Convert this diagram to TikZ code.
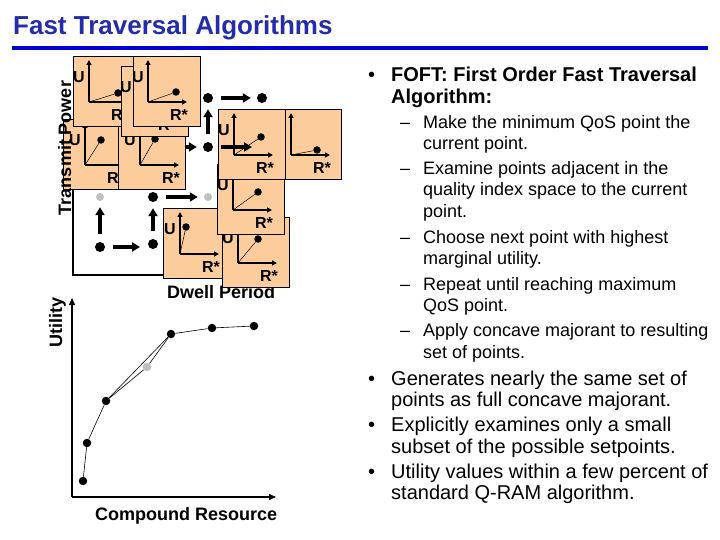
\documentclass[tikz,border=0pt]{standalone}
\usepackage{fontspec}
\setmainfont{Liberation Sans}
\usetikzlibrary{arrows.meta}

\definecolor{peach}{RGB}{252,204,156}
\definecolor{titleblue}{RGB}{36,44,168}
\definecolor{ruleblue}{RGB}{0,0,208}

\newcommand{\uplot}[6][16]{%
  \draw[plotbox] ({#3-#1},{#4-46}) rectangle ++(67,70);
  \coordinate (#2o) at (#3,#4);
  \draw[plotaxis] (#2o) -- ++(0,-42);
  \draw[plotaxis] (#2o) -- ++(39,0);
  \node[plotdot] (#2dot) at ({#3+#5},{#4+#6}) {};
  \draw[plotline] (#2o) -- (#2dot);
  \node[plotlbl] (#2u) at ({#3-10},{#4-25}) {U};
  \node[plotlbl] (#2r) at ({#3+31},{#4+13}) {R*};
}

\begin{document}
\begin{tikzpicture}[x=1pt, y=-1pt]
        \tikzstyle{plotbox}=[draw, fill=peach, line width=0.6pt];
        \tikzstyle{plotaxis}=[line width=1.3pt, -{Triangle[length=5pt,width=5pt]}];
        \tikzstyle{plotline}=[line width=0.5pt];
        \tikzstyle{plotdot}=[circle, fill=black, inner sep=0pt, minimum size=7.5pt];
        \tikzstyle{plotlbl}=[inner sep=0pt, font=\bfseries\fontsize{16}{16}\selectfont];
        \tikzstyle{gdot}=[circle, fill=black, inner sep=0pt, minimum size=10pt];
        \tikzstyle{gray dot}=[circle, fill=black!25, inner sep=0pt, minimum size=8pt];
        \tikzstyle{garrow}=[line width=3.2pt, -{Triangle[length=8pt,width=9pt]}, shorten <=8pt, shorten >=6pt];
        \tikzstyle{axis}=[line width=1.4pt, -{Triangle[length=7pt,width=6pt]}];
        \tikzstyle{cdot}=[circle, fill=black, inner sep=0pt, minimum size=8.5pt];
        \tikzstyle{cline}=[line width=0.6pt];
        \tikzstyle{axlbl}=[inner sep=0pt, font=\bfseries\fontsize{18}{18}\selectfont];
        \tikzstyle{mainitem}=[anchor=base west, inner sep=0pt, align=left, font=\fontsize{20}{21.6}\selectfont];
        \tikzstyle{subitem}=[anchor=base west, inner sep=0pt, align=left, font=\fontsize{18}{21.6}\selectfont];

        \useasboundingbox (0,0) rectangle (720,540);

        \node[anchor=base west, inner sep=0pt, text=titleblue, font=\bfseries\fontsize{26}{26}\selectfont] (title) at (13,34.5) {Fast Traversal Algorithms};
        \draw[ruleblue, line width=4pt] (12,48) -- (708,48);

        % quality index space
        \coordinate (qtop) at (73,120);
        \coordinate (qorg) at (73,275);
        \coordinate (qend) at (250,275);
        \draw[line width=1.4pt] (qtop) -- (qorg) -- (qend);
        \node[axlbl, anchor=base west] (dwell) at (167,298) {Dwell Period};

        \node[gdot] (d00) at (100,247) {};
        \node[gdot] (d10) at (153,244) {};
        \node[gray dot] (d01) at (100,197) {};
        \node[gdot] (d11) at (153,197) {};
        \node[gray dot] (d21) at (208,197) {};
        \node[gdot] (d22) at (208,147) {};
        \node[gdot] (d23) at (208,98) {};
        \node[gdot] (d33) at (262,98) {};
        \coordinate (d12) at (153,147);
        \coordinate (d32) at (262,147);

        \draw[garrow, shorten >=13pt] (d00) -- (d00 -| d10);
        \draw[garrow] (d00) -- (d01);
        \draw[garrow] (d10) -- (d11);
        \draw[garrow] (d11) -- (d21);
        \draw[garrow] (d12) -- (d22);
        \draw[garrow] (d22) -- (d23);
        \draw[garrow] (d23) -- (d33);

        \uplot[22]{pa}{85}{165}{16}{-25}
        \uplot[22]{pb}{140}{165}{15}{-26}
        \uplot{pc}{89}{102}{29}{-9}
        \uplot[15]{pd}{136}{112}{28}{-10}
        \uplot[15]{pe}{148}{102}{28}{-10}
        \uplot[17]{pf}{180}{254}{6}{-27}
        \uplot{pg}{238}{263}{20}{-24}
        \uplot{ph}{233}{210}{25}{-18}
        \uplot[17]{pi}{291}{155}{26}{-5}
        \uplot{pj}{234}{155}{27}{-18}

        \draw[garrow, shorten >=10pt] (d22) -- (d32);
        \node[axlbl, anchor=base, rotate=90] (tpower) at (71,148) {Transmit Power};

        % utility curve
        \coordinate (uorg) at (72,497);
        \coordinate (utop) at (72,298);
        \coordinate (uend) at (276,497);
        \draw[axis] (uorg) -- (utop);
        \draw[axis] (uorg) -- (uend);
        \node[axlbl, anchor=base, rotate=90] (utility) at (62,322) {Utility};
        \node[axlbl, anchor=base west] (cres) at (95,520) {Compound Resource};

        \node[cdot] (c1) at (83,481) {};
        \node[cdot] (c2) at (87,443) {};
        \node[cdot] (c3) at (106,401) {};
        \node[cdot, fill=black!25] (cg) at (147,367) {};
        \node[cdot] (c4) at (171,334) {};
        \node[cdot] (c5) at (212,328) {};
        \node[cdot] (c6) at (254,326) {};

        \draw[cline] (c1) -- (c2);
        \draw[cline] (c2) -- (c3);
        \draw[cline] (c3) -- (c4);
        \draw[cline] (c3) -- (cg);
        \draw[cline] (cg) -- (c4);
        \draw[cline] (c4) -- (c5);
        \draw[cline] (c5) -- (c6);

        % bullets (multi-line nodes sit on their last baseline)
        \node[mainitem] (m1b) at (368,81.7) {•};
        \node[mainitem, font=\bfseries\fontsize{20}{21.6}\selectfont] (m1) at (391,103.3) {FOFT: First Order Fast Traversal\\Algorithm:};
        \node[subitem] (s1b) at (400,128.3) {–};
        \node[subitem] (s1) at (423,149.9) {Make the minimum QoS point the\\current point.};
        \node[subitem] (s2b) at (400,174.3) {–};
        \node[subitem] (s2) at (423,217.5) {Examine points adjacent in the\\quality index space to the current\\point.};
        \node[subitem] (s3b) at (400,243.3) {–};
        \node[subitem] (s3) at (423,264.9) {Choose next point with highest\\marginal utility.};
        \node[subitem] (s4b) at (400,290) {–};
        \node[subitem] (s4) at (423,311.6) {Repeat until reaching maximum\\QoS point.};
        \node[subitem] (s5b) at (400,336.7) {–};
        \node[subitem] (s5) at (423,358.3) {Apply concave majorant to resulting\\set of points.};
        \node[mainitem] (m2b) at (368,385) {•};
        \node[mainitem] (m2) at (391,406.6) {Generates nearly the same set of\\points as full concave majorant.};
        \node[mainitem] (m3b) at (368,431.7) {•};
        \node[mainitem] (m3) at (391,453.3) {Explicitly examines only a small\\subset of the possible setpoints.};
        \node[mainitem] (m4b) at (368,478.3) {•};
        \node[mainitem] (m4) at (391,499.9) {Utility values within a few percent of\\standard Q-RAM algorithm.};
\end{tikzpicture}
\end{document}
